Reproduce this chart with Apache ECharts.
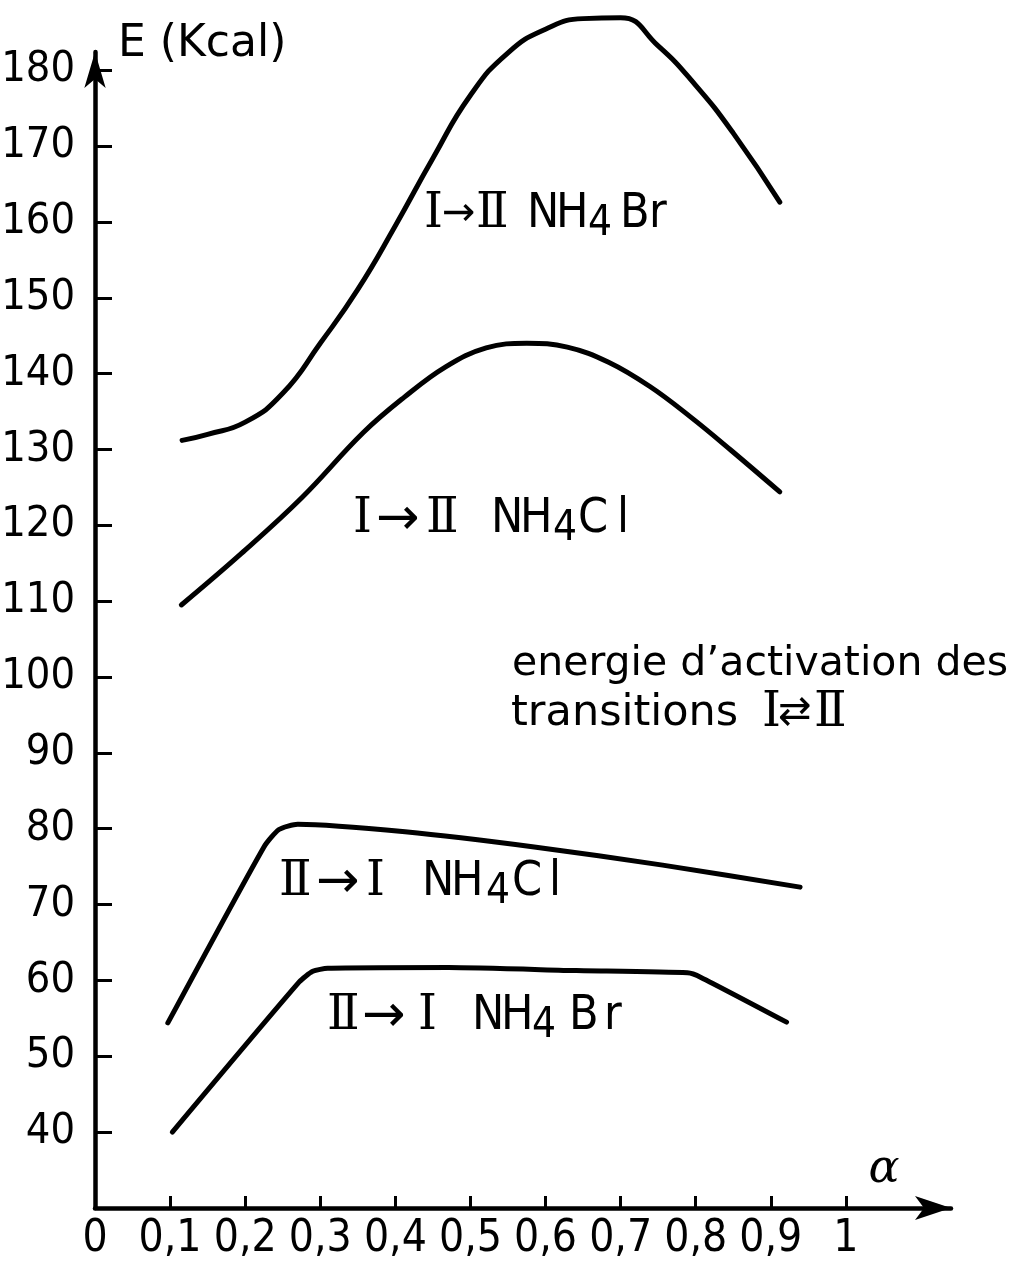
<!DOCTYPE html>
<html>
<head>
<meta charset="utf-8">
<script src="https://cdn.jsdelivr.net/npm/echarts@6/dist/echarts.min.js"></script>
<style>html,body{margin:0;padding:0;background:#fff}#c{width:1022px;height:1271px}</style>
</head>
<body>
<div id="c"></div>
<script>
// ---- tick / label values ----
const xTickValues = [0.1, 0.2, 0.3, 0.4, 0.5, 0.6, 0.7, 0.8, 0.9, 1];
const xLabelValues = [0, 0.1, 0.2, 0.3, 0.4, 0.5, 0.6, 0.7, 0.8, 0.9, 1];
const yTickValues = [40, 50, 60, 70, 80, 90, 100, 110, 120, 130, 140, 150, 160, 170, 180];

// ---- series (alpha, E in kcal) ----
const upNH4Br = [[0.116,131.2],[0.15,132.0],[0.2,133.6],[0.25,137.4],[0.3,144.0],[0.35,151.1],[0.4,159.5],[0.45,168.4],[0.5,176.7],[0.55,182.3],[0.6,185.4],[0.65,186.8],[0.7,186.9],[0.75,183.2],[0.8,178.0],[0.85,171.7],[0.912,162.6]];
const upNH4Cl = [[0.115,109.5],[0.195,116.3],[0.276,123.7],[0.357,132.2],[0.412,136.9],[0.467,140.9],[0.521,143.4],[0.575,144.0],[0.629,143.5],[0.684,141.5],[0.739,138.3],[0.793,134.3],[0.847,129.9],[0.912,124.4]];
const downNH4Cl = [[0.097,54.4],[0.225,77.6],[0.245,79.9],[0.27,80.6],[0.413,79.6],[0.585,77.6],[0.756,75.2],[0.939,72.3]];
const downNH4Br = [[0.103,40.0],[0.272,59.8],[0.29,61.2],[0.31,61.6],[0.471,61.7],[0.641,61.3],[0.789,61.0],[0.807,60.4],[0.921,54.5]];

const numFont = "'Liberation Sans Narrow','DejaVu Sans Condensed','Liberation Sans',sans-serif";
const romanF = "48px 'DejaVu Serif','Liberation Serif',serif";
const arrowS = "40px 'DejaVu Sans',sans-serif";
const arrowL = "52px 'DejaVu Sans',sans-serif";
const letterF = "48px " + numFont;
const subF = "42px " + numFont;

const chart = echarts.init(document.getElementById('c'));

function lineSeries(name, data, smooth) {
  return {
    name: name, type: 'line', data: data, showSymbol: false, symbol: 'none',
    smooth: smooth, clip: false,
    lineStyle: {color: '#000', width: 5, cap: 'round', join: 'round'},
    z: 5
  };
}

function plain(x, y, text, font, align) {
  return {
    type: 'text', x: x, y: y, z: 10,
    style: {text: text, font: font, fill: '#000', align: align || 'left', verticalAlign: 'middle',
            textAlign: align || 'left', textVerticalAlign: 'middle'}
  };
}

// annotation: pieces [x, text, font, dy]
function label(y, pieces) {
  return pieces.map(function (p) { return plain(p[0], y + (p[3] || 0), p[1], p[2]); });
}

const graphics = [].concat(
  [plain(118, 45, 'E (Kcal)', "44px 'DejaVu Sans',sans-serif"),
   plain(884, 1170, 'α', "italic 46px 'DejaVu Serif',serif", 'center')],
  label(215, [[424, 'Ⅰ', romanF], [442, '→', arrowS], [476, 'Ⅱ', romanF],
              [527, 'N', letterF], [556, 'H', letterF], [588, '4', subF, 9], [620, 'B', letterF], [649, 'r', letterF]]),
  label(520, [[353, 'Ⅰ', romanF], [376, '→', arrowL], [426, 'Ⅱ', romanF],
              [491, 'N', letterF], [520, 'H', letterF], [553, '4', subF, 9], [578, 'C', letterF], [617, 'l', letterF]]),
  label(883, [[279, 'Ⅱ', romanF], [316, '→', arrowL], [366, 'Ⅰ', romanF],
              [422, 'N', letterF], [451, 'H', letterF], [486, '4', subF, 9], [512, 'C', letterF], [549, 'l', letterF]]),
  label(1017, [[327, 'Ⅱ', romanF], [362, '→', arrowL], [418, 'Ⅰ', romanF],
               [472, 'N', letterF], [501, 'H', letterF], [532, '4', subF, 9], [569, 'B', letterF], [604, 'r', letterF]]),
  [plain(512, 664, 'energie d\u2019activation des', "41px 'DejaVu Sans',sans-serif"),
   plain(511, 714, 'transitions', "43px 'DejaVu Sans',sans-serif")],
  label(714, [[762, 'Ⅰ', romanF], [778, '⇄', arrowS], [814, 'Ⅱ', romanF]])
);

chart.setOption({
  animation: false,
  backgroundColor: '#fff',
  grid: {left: 95, right: 71, top: 52, bottom: 63, containLabel: false, outerBoundsMode: 'none'},
  xAxis: {
    type: 'value', min: 0, max: 1.14, interval: 0.1,
    splitLine: {show: false},
    axisLine: {show: true, onZero: false, lineStyle: {color: '#000', width: 4.5},
               symbol: ['none', 'arrow'], symbolSize: [18, 36]},
    axisTick: {show: true, inside: true, length: 12, lineStyle: {color: '#000', width: 3},
               customValues: xTickValues},
    axisLabel: {show: true, customValues: xLabelValues, color: '#000', fontFamily: numFont,
                fontSize: 44, margin: 10,
                formatter: function (v) { return v > 1.001 ? '' : String(+v.toFixed(1)).replace('.', ','); }}
  },
  yAxis: {
    type: 'value', min: 30, max: 182.4, interval: 10,
    splitLine: {show: false},
    axisLine: {show: true, onZero: false, lineStyle: {color: '#000', width: 4.5},
               symbol: ['none', 'arrow'], symbolSize: [16, 36]},
    axisTick: {show: true, inside: true, length: 17, lineStyle: {color: '#000', width: 3},
               customValues: yTickValues},
    axisLabel: {show: true, customValues: yTickValues, color: '#000', fontFamily: numFont,
                fontSize: 43, margin: 20,
                formatter: function (v) { return (v < 35 || v > 181) ? '' : String(v); }}
  },
  series: [
    lineSeries('I→II NH4Br', upNH4Br, 0.5),
    lineSeries('I→II NH4Cl', upNH4Cl, 0.4),
    lineSeries('II→I NH4Cl', downNH4Cl, 0.2),
    lineSeries('II→I NH4Br', downNH4Br, 0.2)
  ],
  graphic: graphics
});
</script>
</body>
</html>
